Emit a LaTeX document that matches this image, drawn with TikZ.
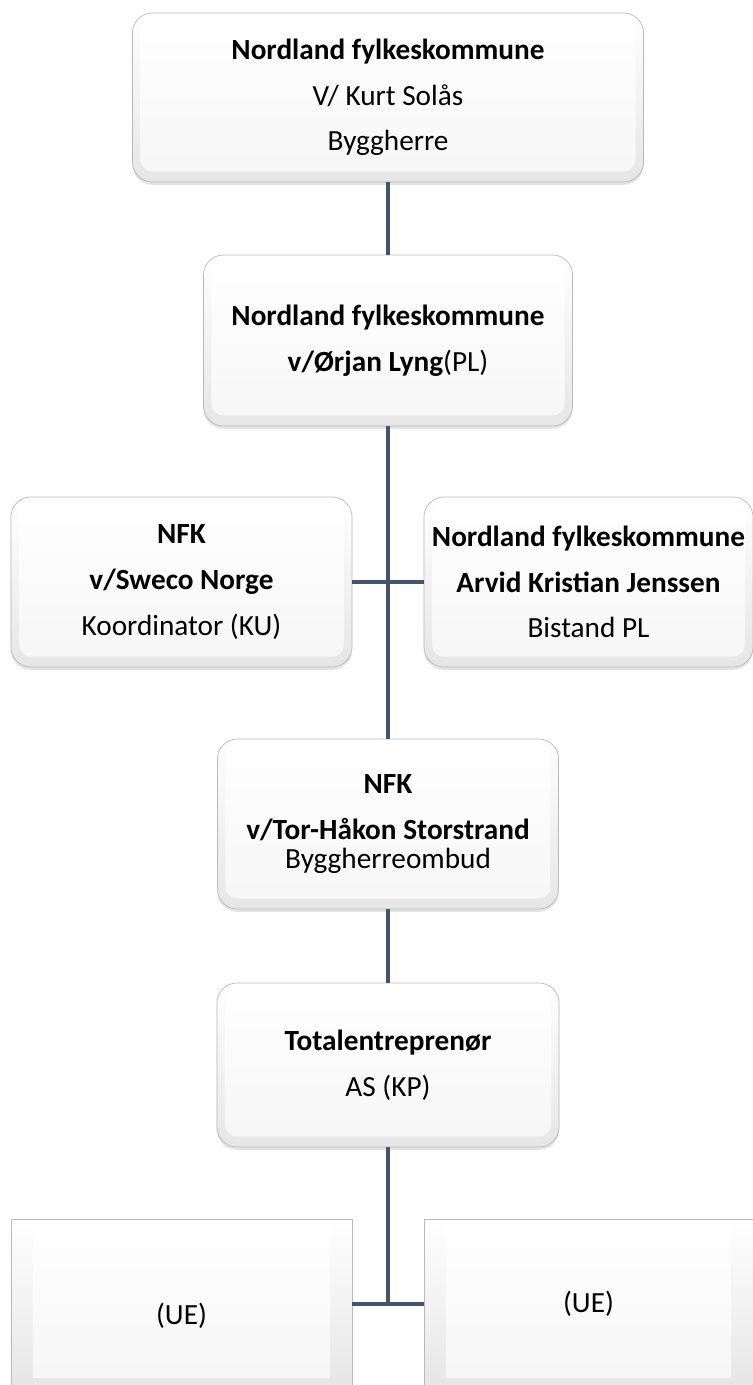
\documentclass[tikz,border=0pt]{standalone}
\usepackage{fontspec}
\setmainfont{Carlito}
\usetikzlibrary{shadows}
\definecolor{linecol}{HTML}{44546A}

\begin{document}
\begin{tikzpicture}[x=0.025cm, y=-0.025cm]
		\tikzstyle{ln} = [draw=linecol, line width=2.3pt]
		\tikzstyle{bx} = [rounded corners=0.5cm, draw=gray!55, line width=0.5pt, top color=white, bottom color=gray!20, inner sep=0pt, align=center, font=\fontsize{20.8}{21}\selectfont, drop shadow={shadow xshift=0pt, shadow yshift=-0.07cm, opacity=0.22}, path picture={\shade[top color=white, bottom color=gray!7, rounded corners=0.3cm] ([shift={(0.2cm,0.26cm)}]path picture bounding box.south west) rectangle ([shift={(-0.2cm,-0.12cm)}]path picture bounding box.north east);}]
		\tikzstyle{bxs} = [sharp corners, draw=gray!55, line width=0.5pt, top color=white, bottom color=gray!20, inner sep=0pt, align=center, font=\fontsize{20.8}{21}\selectfont, drop shadow={shadow xshift=0pt, shadow yshift=-0.07cm, opacity=0.22}, path picture={\shade[top color=white, bottom color=gray!7] ([shift={(0.55cm,0.3cm)}]path picture bounding box.south west) rectangle ([shift={(-0.55cm,-0.12cm)}]path picture bounding box.north east);}]
		\useasboundingbox [fill=white] (0,0) rectangle (753,1385);
		\node [bx, minimum width=12.775cm, minimum height=4.225cm] (v1) at (388,97.5) {\textbf{Nordland fylkeskommune}\\[11.5pt] V/ Kurt Solås\\[11.5pt] Byggherre};
		\node [bx, minimum width=9.225cm, minimum height=4.275cm] (v2) at (388,340.5) {\textbf{Nordland fylkeskommune}\\[11.5pt] \textbf{v/Ørjan Lyng}(PL)};
		\node [bx, minimum width=8.525cm, minimum height=4.25cm] (v3) at (181.5,582) {\textbf{NFK}\\[11.5pt] \textbf{v/Sweco Norge}\\[11.5pt] Koordinator (KU)};
		\node [bx, minimum width=8.225cm, minimum height=4.25cm] (v4) at (588.5,582) {\textbf{Nordland fylkeskommune}\\[11.5pt] \textbf{Arvid Kristian Jenssen}\\[11.5pt] Bistand PL};
		\node [bx, minimum width=8.525cm, minimum height=4.25cm] (v5) at (388,824) {\textbf{NFK}\\[11.5pt] \textbf{v/Tor-Håkon Storstrand}\\ Byggherreombud};
		\node [bx, minimum width=8.55cm, minimum height=4.1cm] (v6) at (388,1065) {\textbf{Totalentreprenør}\\[11.5pt] AS (KP)};
		\node [bxs, minimum width=8.525cm, minimum height=4.25cm] (v7) at (181.5,1304) {\mbox{}\\[11.5pt] (UE)};
		\node [bxs, minimum width=8.225cm, minimum height=4.25cm] (v8) at (588.5,1304) {(UE)};
		\coordinate (j1) at (388,1304);
		\draw [ln] (v1) edge (v2);
		\draw [ln] (v2) edge (v5);
		\draw [ln] (v3) edge (v4);
		\draw [ln] (v5) edge (v6);
		\draw [ln] (v6) edge (j1);
		\draw [ln] (v7) edge (v8);
\end{tikzpicture}
\end{document}
